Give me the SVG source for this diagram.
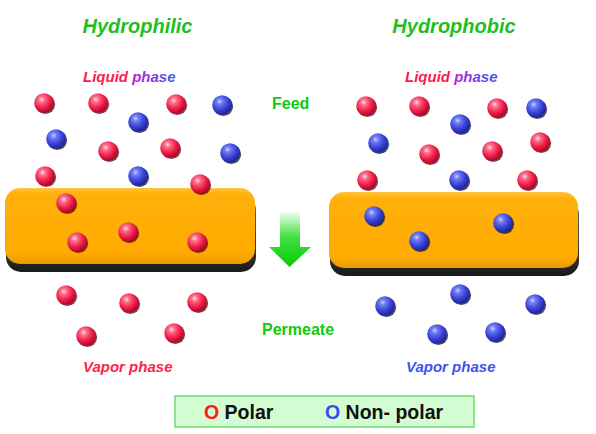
<svg xmlns="http://www.w3.org/2000/svg" width="596" height="434" viewBox="0 0 596 434">
<defs>
<radialGradient id="gRed" cx="0.38" cy="0.32" r="0.7">
<stop offset="0" stop-color="#ffe0e8"/>
<stop offset="0.22" stop-color="#ff6d8a"/>
<stop offset="0.6" stop-color="#f0224a"/>
<stop offset="1" stop-color="#b00028"/>
</radialGradient>
<radialGradient id="gBlue" cx="0.38" cy="0.32" r="0.7">
<stop offset="0" stop-color="#c8d0ff"/>
<stop offset="0.22" stop-color="#6f7cf4"/>
<stop offset="0.6" stop-color="#3a44d8"/>
<stop offset="1" stop-color="#1c2290"/>
</radialGradient>
<linearGradient id="gMem" x1="0" y1="0" x2="0" y2="1">
<stop offset="0" stop-color="#ffc440"/>
<stop offset="0.08" stop-color="#ffb00a"/>
<stop offset="0.85" stop-color="#ffab00"/>
<stop offset="1" stop-color="#e89a00"/>
</linearGradient>
<linearGradient id="gShadow" x1="0" y1="0" x2="0" y2="1">
<stop offset="0" stop-color="#6a7078"/>
<stop offset="1" stop-color="#1a1a1a"/>
</linearGradient>
<linearGradient id="gArrow" x1="0" y1="0" x2="0" y2="1">
<stop offset="0" stop-color="#f0fff0"/>
<stop offset="0.45" stop-color="#44e044"/>
<stop offset="1" stop-color="#00cc00"/>
</linearGradient>
<linearGradient id="gPhase" x1="0" y1="0" x2="1" y2="0">
<stop offset="0" stop-color="#c020d8"/>
<stop offset="1" stop-color="#3f5cf0"/>
</linearGradient>
<style>
.t{font-family:"Liberation Sans",Arial,sans-serif;font-weight:bold}
.it{font-style:italic}
.title{font-size:20px;fill:#1fbf1f}
.ph{font-size:15px}
.gr{font-size:16px;fill:#10c810}
.leg{font-size:19.5px;fill:#111}
.r{fill:url(#gRed)}
.b{fill:url(#gBlue)}
.rs{fill:#5a0012;opacity:0.75}
.bs{fill:#0c0c40;opacity:0.75}
</style>
<g id="red">
<circle class="rs" cx="1.3" cy="1.3" r="9.8"/>
<circle class="r" cx="0" cy="0" r="9.8"/>
</g>
<g id="blue">
<circle class="bs" cx="1.3" cy="1.3" r="9.8"/>
<circle class="b" cx="0" cy="0" r="9.8"/>
</g>
</defs>
<rect width="596" height="434" fill="#ffffff"/>

<g id="titles">
<text class="t it title" x="137.5" y="33" text-anchor="middle">Hydrophilic</text>
<text class="t it title" x="454" y="33" text-anchor="middle">Hydrophobic</text>
</g>

<g id="liquid-left">
<text class="t it ph" x="83" y="82" fill="#ff1a4c">Liquid</text>
<text class="t it ph" x="132.2" y="82" fill="url(#gPhase)">phase</text>
</g>
<g id="liquid-right">
<text class="t it ph" x="405" y="82" fill="#ff1a4c">Liquid</text>
<text class="t it ph" x="454.2" y="82" fill="url(#gPhase)">phase</text>
</g>

<g id="feed"><text class="t gr" x="272" y="109">Feed</text></g>
<g id="permeate"><text class="t gr" x="262" y="335">Permeate</text></g>

<g id="membrane-left">
<rect x="6" y="195" width="250" height="77" rx="15" fill="url(#gShadow)"/>
<rect x="5" y="188" width="250" height="76" rx="15" fill="url(#gMem)"/>
</g>
<g id="membrane-right">
<rect x="330" y="199" width="249" height="77" rx="15" fill="url(#gShadow)"/>
<rect x="329" y="192" width="249" height="76" rx="15" fill="url(#gMem)"/>
</g>

<g id="connectors">
<path d="M280,212 H300 V247 H311 L289.5,267 L269,247 H280 Z" fill="url(#gArrow)"/>
</g>

<g id="molecules-left-feed">
<use href="#red" x="44" y="103"/>
<use href="#red" x="98" y="103"/>
<use href="#red" x="176" y="104"/>
<use href="#blue" x="222" y="105"/>
<use href="#blue" x="138" y="122"/>
<use href="#blue" x="56" y="139"/>
<use href="#red" x="108" y="151"/>
<use href="#red" x="170" y="148"/>
<use href="#blue" x="230" y="153"/>
<use href="#red" x="45" y="176"/>
<use href="#blue" x="138" y="176"/>
<use href="#red" x="200" y="184"/>
</g>
<g id="molecules-left-membrane">
<use href="#red" x="66" y="203"/>
<use href="#red" x="77" y="242"/>
<use href="#red" x="128" y="232"/>
<use href="#red" x="197" y="242"/>
</g>
<g id="molecules-left-permeate">
<use href="#red" x="66" y="295"/>
<use href="#red" x="129" y="303"/>
<use href="#red" x="197" y="302"/>
<use href="#red" x="86" y="336"/>
<use href="#red" x="174" y="333"/>
</g>

<g id="molecules-right-feed">
<use href="#red" x="366" y="106"/>
<use href="#red" x="419" y="106"/>
<use href="#red" x="497" y="108"/>
<use href="#blue" x="536" y="108"/>
<use href="#blue" x="460" y="124"/>
<use href="#blue" x="378" y="143"/>
<use href="#red" x="429" y="154"/>
<use href="#red" x="492" y="151"/>
<use href="#red" x="540" y="142"/>
<use href="#red" x="367" y="180"/>
<use href="#blue" x="459" y="180"/>
<use href="#red" x="527" y="180"/>
</g>
<g id="molecules-right-membrane">
<use href="#blue" x="374" y="216"/>
<use href="#blue" x="419" y="241"/>
<use href="#blue" x="503" y="223"/>
</g>
<g id="molecules-right-permeate">
<use href="#blue" x="385" y="306"/>
<use href="#blue" x="460" y="294"/>
<use href="#blue" x="535" y="304"/>
<use href="#blue" x="437" y="334"/>
<use href="#blue" x="495" y="332"/>
</g>

<g id="vapor-left"><text class="t it ph" x="83" y="372" fill="#ff2249">Vapor phase</text></g>
<g id="vapor-right"><text class="t it ph" x="406" y="372" fill="#4152ee">Vapor phase</text></g>

<g id="legend">
<rect x="175" y="396" width="299" height="31" fill="#d2fcd2" stroke="#6fdc6f" stroke-width="1.5"/>
<text class="t leg" x="204" y="419"><tspan fill="#ff1a1a">O</tspan> Polar</text>
<text class="t leg" x="325" y="419"><tspan fill="#3a4cf0">O</tspan> Non- polar</text>
</g>
</svg>
